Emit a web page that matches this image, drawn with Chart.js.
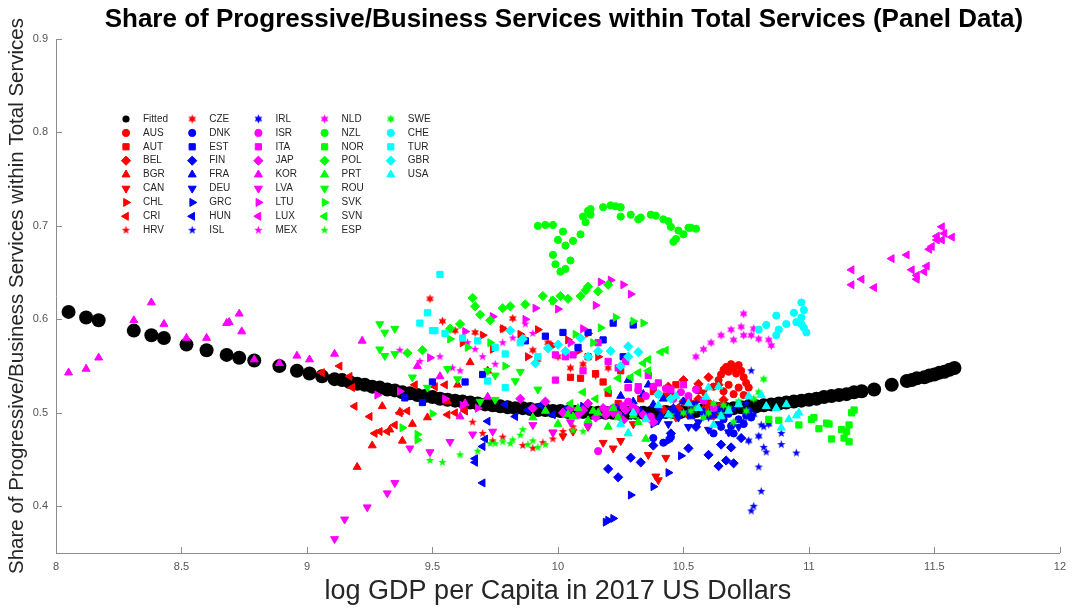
<!DOCTYPE html>
<html>
<head>
<meta charset="utf-8">
<script src="https://cdn.jsdelivr.net/npm/chart.js@4/dist/chart.umd.min.js"></script>
<style>
  html, body { margin: 0; padding: 0; background: #fff; }
  #wrap { width: 1073px; height: 609px; }
</style>
</head>
<body>
<div id="wrap"><canvas id="panelChart" width="1073" height="609"></canvas></div>
<script>
// ---- values ----
const xTicks = [8, 8.5, 9, 9.5, 10, 10.5, 11, 11.5, 12];
const yTicks = [0.4, 0.5, 0.6, 0.7, 0.8, 0.9];

const countries = ['AUS','AUT','BEL','BGR','CAN','CHL','CRI','HRV','CZE',
                   'DNK','EST','FIN','FRA','DEU','GRC','HUN','ISL','IRL',
                   'ISR','ITA','JAP','KOR','LVA','LTU','LUX','MEX','NLD',
                   'NZL','NOR','POL','PRT','ROU','SVK','SVN','ESP','SWE',
                   'CHE','TUR','GBR','USA'];

const fittedX = [8.05,8.12,8.17,8.31,8.38,8.43,8.52,8.60,8.68,8.73,8.79,8.89,8.96,9.01,9.06,9.11,9.14,9.17,
  9.20,9.23,9.26,9.29,9.32,9.35,9.38,9.41,9.44,9.47,9.50,9.53,9.56,9.59,9.62,9.65,9.68,9.71,9.74,9.77,
  9.80,9.83,9.86,9.89,9.92,9.95,9.98,10.01,10.04,10.07,10.10,10.13,10.16,10.19,10.22,10.25,10.28,10.31,
  10.34,10.37,10.40,10.43,10.46,10.49,10.52,10.55,10.58,10.61,10.64,10.67,10.70,10.73,10.76,10.79,10.82,
  10.85,10.88,10.91,10.94,10.97,11.00,11.03,11.06,11.09,11.12,11.15,11.18,11.21,11.26,11.33,11.39,11.41,
  11.43,11.46,11.48,11.50,11.52,11.54,11.56,11.58];
const fittedY = [0.608,0.602,0.599,0.588,0.583,0.580,0.573,0.567,0.562,0.559,0.556,0.550,0.545,0.542,0.539,0.536,0.535,0.533,
  0.531,0.530,0.528,0.527,0.525,0.524,0.522,0.521,0.519,0.518,0.517,0.515,0.514,0.513,0.512,0.511,0.510,0.509,0.508,0.507,
  0.506,0.505,0.505,0.504,0.503,0.503,0.502,0.502,0.501,0.501,0.501,0.500,0.500,0.500,0.500,0.500,0.500,0.500,
  0.500,0.500,0.500,0.501,0.501,0.501,0.502,0.502,0.503,0.503,0.504,0.504,0.505,0.506,0.507,0.507,0.508,
  0.509,0.510,0.511,0.512,0.513,0.514,0.515,0.517,0.518,0.519,0.520,0.522,0.523,0.525,0.530,0.534,0.535,
  0.537,0.538,0.540,0.541,0.543,0.544,0.546,0.548];

const AUS = [[10.62,0.528],[10.64,0.535],[10.65,0.541],[10.66,0.546],[10.67,0.549],[10.68,0.544],[10.69,0.552],[10.70,0.548],
  [10.71,0.542],[10.72,0.551],[10.73,0.545],[10.74,0.538],[10.75,0.532],[10.72,0.527],[10.70,0.520],[10.68,0.530],[10.66,0.523],[10.76,0.527],[10.74,0.519]];
const AUT = [[10.05,0.538],[10.09,0.537],[10.15,0.542],[10.18,0.533],[10.20,0.521],[10.24,0.510],[10.28,0.527],[10.33,0.515],
  [10.38,0.523],[10.43,0.518],[10.47,0.530],[10.52,0.512],[10.56,0.524],[10.60,0.508],[10.12,0.560],[10.25,0.545]];
const BEL = [[10.48,0.505],[10.50,0.512],[10.52,0.498],[10.54,0.509],[10.56,0.515],[10.58,0.503],[10.60,0.511],[10.62,0.497],
  [10.64,0.506],[10.66,0.514],[10.45,0.520],[10.42,0.503],[10.44,0.528],[10.50,0.535],[10.56,0.531],[10.60,0.538],[10.64,0.530]];
const BGR = [[9.20,0.442],[9.26,0.465],[9.30,0.507],[9.37,0.501],[9.33,0.482],[9.42,0.488],[9.48,0.495],[9.56,0.512],
  [9.65,0.554],[9.72,0.545],[9.60,0.530],[9.38,0.470]];
const CAN = [[9.98,0.479],[10.02,0.475],[10.06,0.480],[10.12,0.485],[10.18,0.468],[10.22,0.462],[10.25,0.470],[10.30,0.488],
  [10.36,0.455],[10.39,0.432],[10.40,0.428],[10.43,0.452],[10.47,0.495],[10.52,0.510],[10.58,0.522]];
const CHL = [[9.62,0.575],[9.70,0.583],[9.78,0.590],[9.85,0.584],[9.92,0.589],[9.98,0.572],[10.04,0.578],[10.08,0.566],
  [10.12,0.585],[10.16,0.560],[9.88,0.560],[9.74,0.568]];
const CRI = [[9.06,0.543],[9.13,0.550],[9.17,0.539],[9.18,0.527],[9.19,0.507],[9.25,0.496],[9.27,0.478],[9.29,0.480],
  [9.32,0.480],[9.35,0.487],[9.37,0.500],[9.40,0.502],[9.43,0.530],[9.51,0.528],[9.55,0.530],[9.56,0.498],[9.59,0.500],[9.63,0.502]];
const HRV = [[9.70,0.478],[9.74,0.470],[9.78,0.474],[9.86,0.465],[9.90,0.462],[9.94,0.468],[9.98,0.472],[10.02,0.480],
  [10.06,0.485],[9.66,0.490],[9.62,0.505]];
const CZE = [[9.49,0.622],[9.54,0.598],[9.59,0.588],[9.67,0.586],[9.78,0.590],[9.82,0.601],[9.86,0.580],[9.90,0.567],
  [9.92,0.557],[9.96,0.575],[10.00,0.560],[10.05,0.548],[10.10,0.552],[10.15,0.540],[10.20,0.548]];
const DNK = [[10.62,0.478],[10.65,0.485],[10.66,0.493],[10.69,0.486],[10.70,0.478],[10.72,0.493],[10.74,0.488],[10.75,0.497],
  [10.76,0.502],[10.77,0.495],[10.68,0.499],[10.64,0.503],[10.42,0.468],[10.45,0.474],[10.38,0.473]];
const EST = [[9.39,0.516],[9.46,0.511],[9.50,0.533],[9.63,0.533],[9.70,0.541],[9.87,0.577],[9.95,0.582],[10.02,0.586],
  [10.08,0.570],[10.12,0.586],[10.18,0.578],[10.22,0.596],[10.30,0.594],[10.26,0.560]];
const FIN = [[10.20,0.440],[10.24,0.431],[10.29,0.452],[10.33,0.447],[10.38,0.465],[10.45,0.478],[10.52,0.462],[10.60,0.455],
  [10.64,0.443],[10.65,0.466],[10.67,0.449],[10.69,0.463],[10.70,0.446],[10.73,0.473],[10.55,0.485]];
const FRA = [[10.25,0.518],[10.30,0.512],[10.34,0.520],[10.38,0.509],[10.42,0.515],[10.46,0.505],[10.50,0.512],[10.54,0.508],
  [10.58,0.501],[10.62,0.497],[10.28,0.535],[10.36,0.530],[10.33,0.502],[10.41,0.497],[10.47,0.500],[10.53,0.496]];
const DEU = [[10.35,0.498],[10.40,0.492],[10.44,0.488],[10.48,0.495],[10.52,0.485],[10.56,0.490],[10.60,0.482],[10.64,0.488],
  [10.68,0.479],[10.72,0.485],[10.30,0.505],[10.25,0.496],[10.45,0.503],[10.52,0.500],[10.58,0.497],[10.62,0.503]];
const GRC = [[10.19,0.383],[10.20,0.385],[10.22,0.387],[10.29,0.412],[10.38,0.421],[10.44,0.436],[10.49,0.454],[10.44,0.470],
  [10.38,0.488],[10.30,0.497],[10.24,0.505],[10.16,0.498],[10.10,0.507]];
const HUN = [[9.67,0.451],[9.67,0.447],[9.70,0.425],[9.70,0.464],[9.71,0.472],[9.72,0.491],[9.79,0.509],[9.83,0.496],
  [9.88,0.503],[9.93,0.508],[9.98,0.498],[10.03,0.504],[10.08,0.499]];
const ISL = [[10.77,0.545],[10.81,0.487],[10.82,0.485],[10.89,0.478],[10.89,0.466],[10.82,0.463],[10.83,0.458],[10.95,0.457],
  [10.80,0.442],[10.81,0.416],[10.78,0.400],[10.77,0.395],[10.75,0.510],[10.70,0.505]];
const IRL = [[10.40,0.505],[10.48,0.498],[10.55,0.510],[10.60,0.495],[10.65,0.502],[10.72,0.508],[10.78,0.498],[10.84,0.488],
  [10.80,0.475],[10.74,0.490],[10.68,0.480],[10.76,0.470]];
const ISR = [[10.16,0.459],[10.22,0.505],[10.28,0.512],[10.32,0.524],[10.35,0.518],[10.38,0.528],[10.40,0.520],[10.43,0.526],
  [10.46,0.515],[10.49,0.522],[10.52,0.518],[10.55,0.525],[10.58,0.513],[10.62,0.505],[10.24,0.498],[10.31,0.503],[10.37,0.496]];
const ITA = [[9.99,0.562],[10.03,0.560],[10.06,0.562],[10.16,0.575],[10.20,0.555],[10.24,0.548],[10.27,0.555],[10.28,0.527],
  [10.32,0.528],[10.36,0.540],[10.40,0.532],[10.45,0.525],[10.50,0.530],[9.99,0.535],[10.10,0.545],[10.20,0.503],[10.26,0.508]];
const JAP = [[10.05,0.505],[10.08,0.498],[10.12,0.510],[10.15,0.495],[10.18,0.505],[10.22,0.500],[10.26,0.492],[10.30,0.506],
  [10.34,0.498],[10.38,0.490],[9.95,0.512],[9.90,0.505],[9.85,0.515],[10.02,0.500],[10.10,0.503],[10.19,0.498],[10.27,0.503]];
const KOR = [[8.05,0.543],[8.12,0.547],[8.17,0.559],[8.31,0.599],[8.38,0.618],[8.43,0.595],[8.52,0.580],[8.60,0.580],
  [8.68,0.596],[8.69,0.597],[8.73,0.606],[8.74,0.587],[8.79,0.557],[8.89,0.553],[8.96,0.561],[9.01,0.557],[9.11,0.563],
  [9.22,0.577],[9.44,0.550],[9.53,0.539],[9.61,0.496],[9.63,0.510],[9.72,0.517]];
const LVA = [[9.11,0.365],[9.15,0.386],[9.24,0.399],[9.32,0.414],[9.35,0.425],[9.41,0.462],[9.49,0.458],[9.57,0.469],
  [9.66,0.477],[9.74,0.480],[9.90,0.487],[9.98,0.479],[10.05,0.490],[10.12,0.486]];
const LTU = [[9.28,0.519],[9.37,0.523],[9.49,0.559],[9.63,0.587],[9.74,0.603],[9.87,0.600],[9.91,0.612],[10.00,0.611],
  [10.15,0.615],[10.17,0.640],[10.21,0.642],[10.26,0.637],[10.29,0.627],[10.10,0.590],[10.05,0.575],[9.55,0.515],[9.62,0.508],[9.68,0.505]];
const LUX = [[11.17,0.653],[11.21,0.643],[11.17,0.637],[11.26,0.634],[11.33,0.665],[11.39,0.669],[11.41,0.653],[11.43,0.647],
  [11.46,0.651],[11.47,0.657],[11.43,0.643],[11.48,0.675],[11.49,0.678],[11.51,0.689],[11.51,0.685],[11.53,0.699],[11.53,0.685],
  [11.57,0.688],[11.54,0.692]];
const MEX = [[9.37,0.567],[9.45,0.555],[9.53,0.560],[9.58,0.548],[9.61,0.545],[9.64,0.575],[9.67,0.568],[9.70,0.560],
  [9.78,0.575],[9.82,0.580],[9.87,0.595],[9.90,0.585],[9.75,0.552]];
const NLD = [[10.55,0.560],[10.58,0.568],[10.61,0.575],[10.65,0.583],[10.69,0.589],[10.73,0.592],[10.74,0.606],[10.74,0.583],
  [10.77,0.583],[10.80,0.579],[10.84,0.578],[10.85,0.572],[10.78,0.590],[10.70,0.578]];
const NZL = [[9.92,0.700],[9.95,0.701],[9.98,0.701],[10.02,0.694],[10.00,0.685],[10.03,0.679],[10.06,0.684],[10.09,0.691],
  [9.98,0.669],[9.99,0.659],[10.05,0.663],[10.01,0.651],[10.03,0.654],[10.10,0.710],[10.11,0.704],[10.12,0.716],[10.13,0.718],
  [10.13,0.712],[10.18,0.720],[10.21,0.722],[10.23,0.721],[10.25,0.720],[10.25,0.710],[10.29,0.712],[10.32,0.707],[10.33,0.709],
  [10.37,0.712],[10.39,0.711],[10.42,0.707],[10.44,0.705],[10.45,0.699],[10.48,0.695],[10.50,0.691],[10.46,0.683],[10.47,0.686],
  [10.52,0.698],[10.53,0.698],[10.55,0.697]];
const NOR = [[10.84,0.493],[10.88,0.492],[10.96,0.487],[11.01,0.493],[11.02,0.495],[11.04,0.483],[11.07,0.489],[11.08,0.488],
  [11.09,0.472],[11.13,0.482],[11.14,0.473],[11.16,0.487],[11.16,0.469],[11.17,0.500],[11.18,0.503],[11.15,0.480]];
const POL = [[9.40,0.564],[9.46,0.567],[9.57,0.590],[9.61,0.595],[9.66,0.623],[9.67,0.614],[9.69,0.605],[9.73,0.599],
  [9.78,0.612],[9.81,0.614],[9.87,0.616],[9.94,0.625],[9.98,0.620],[10.01,0.625],[10.04,0.622],[10.09,0.625],[10.11,0.631],
  [10.12,0.635],[10.16,0.630],[10.20,0.637]];
const PRT = [[9.90,0.495],[9.95,0.502],[10.00,0.488],[10.04,0.498],[10.08,0.505],[10.12,0.492],[10.16,0.500],[10.20,0.485],
  [10.24,0.495],[10.28,0.478],[10.32,0.490],[10.35,0.472],[10.06,0.496],[10.14,0.502],[10.22,0.505],[10.30,0.497]];
const ROU = [[9.29,0.595],[9.31,0.586],[9.35,0.590],[9.29,0.568],[9.31,0.561],[9.35,0.563],[9.42,0.538],[9.48,0.527],
  [9.56,0.547],[9.60,0.536],[9.72,0.545],[9.75,0.540],[9.83,0.534],[9.85,0.544],[9.92,0.525],[9.69,0.512],[9.75,0.514]];
const SVK = [[9.38,0.484],[9.44,0.471],[9.44,0.477],[9.50,0.499],[9.57,0.579],[9.64,0.570],[9.73,0.575],[9.79,0.550],
  [9.98,0.620],[10.07,0.584],[10.14,0.575],[10.17,0.591],[10.23,0.602],[10.30,0.598],[10.34,0.596]];
const SVN = [[10.24,0.537],[10.29,0.538],[10.32,0.543],[10.34,0.553],[10.36,0.545],[10.36,0.557],[10.41,0.565],[10.43,0.567],
  [10.20,0.525],[10.15,0.515],[10.10,0.522],[10.05,0.510]];
const ESP = [[9.49,0.449],[9.54,0.447],[9.61,0.455],[9.68,0.459],[9.73,0.467],[9.75,0.467],[9.78,0.469],[9.81,0.467],
  [9.82,0.471],[9.85,0.476],[9.86,0.482],[9.88,0.466],[9.90,0.470],[9.92,0.463],[9.95,0.466],[10.06,0.481],[10.10,0.480]];
const SWE = [[10.50,0.500],[10.55,0.505],[10.58,0.495],[10.62,0.510],[10.65,0.498],[10.68,0.505],[10.72,0.512],[10.75,0.502],
  [10.78,0.515],[10.82,0.536],[10.80,0.522],[10.70,0.490],[10.45,0.497],[10.53,0.502],[10.60,0.500],[10.66,0.508]];
const CHE = [[10.80,0.589],[10.83,0.594],[10.87,0.604],[10.88,0.589],[10.87,0.583],[10.91,0.595],[10.94,0.607],[10.95,0.597],
  [10.97,0.602],[10.97,0.618],[10.98,0.610],[10.97,0.595],[10.98,0.591],[10.99,0.586]];
const TUR = [[9.53,0.648],[9.48,0.607],[9.45,0.596],[9.50,0.588],[9.51,0.588],[9.55,0.585],[9.62,0.580],[9.68,0.577],
  [9.75,0.570],[9.79,0.563],[9.72,0.534],[9.79,0.527],[9.85,0.575],[9.92,0.560]];
const GBR = [[9.81,0.588],[9.86,0.579],[9.91,0.553],[9.96,0.569],[10.00,0.573],[10.03,0.566],[10.09,0.580],[10.12,0.560],
  [10.16,0.566],[10.21,0.566],[10.25,0.550],[10.28,0.571],[10.28,0.560],[10.32,0.565],[10.40,0.520],[10.45,0.515]];
const USA = [[10.47,0.518],[10.52,0.510],[10.56,0.505],[10.59,0.517],[10.60,0.527],[10.62,0.487],[10.64,0.528],[10.65,0.496],
  [10.68,0.502],[10.72,0.509],[10.76,0.518],[10.81,0.519],[10.83,0.507],[10.87,0.505],[10.89,0.484],[10.91,0.509],[10.92,0.493],
  [10.95,0.497],[10.96,0.500],[10.30,0.500],[10.35,0.493],[10.40,0.508],[10.44,0.498],[10.28,0.478],[10.25,0.488]];

const countryPoints = {AUS, AUT, BEL, BGR, CAN, CHL, CRI, HRV, CZE, DNK, EST, FIN, FRA, DEU, GRC, HUN, ISL, IRL,
  ISR, ITA, JAP, KOR, LVA, LTU, LUX, MEX, NLD, NZL, NOR, POL, PRT, ROU, SVK, SVN, ESP, SWE, CHE, TUR, GBR, USA};

// ---- styling ----
const palette = ['#ff0000', '#0000ff', '#ff00ff', '#00ff00', '#00ffff'];
const FONT = '"Liberation Sans", Arial, Helvetica, sans-serif';

function starCanvas(color, points, outer, inner) {
  const c = document.createElement('canvas');
  c.width = 11; c.height = 11;
  const g = c.getContext('2d');
  g.fillStyle = color;
  g.beginPath();
  for (let k = 0; k < points * 2; k++) {
    const r = k % 2 === 0 ? outer : inner;
    const a = -Math.PI / 2 + k * Math.PI / points;
    const px = 5.5 + r * Math.cos(a), py = 5.5 + r * Math.sin(a);
    if (k === 0) g.moveTo(px, py); else g.lineTo(px, py);
  }
  g.closePath();
  g.fill();
  return c;
}

// marker cycle o s d ^ v > < p h
function markerFor(k, color) {
  switch (k) {
    case 0: return {style: 'circle', rot: 0, r: 3.6};
    case 1: return {style: 'rect', rot: 0, r: 4.4};
    case 2: return {style: 'rectRot', rot: 0, r: 4.6};
    case 3: return {style: 'triangle', rot: 0, r: 4.6};
    case 4: return {style: 'triangle', rot: 180, r: 4.6};
    case 5: return {style: 'triangle', rot: 90, r: 4.6};
    case 6: return {style: 'triangle', rot: -90, r: 4.6};
    case 7: return {style: starCanvas(color, 5, 4.4, 1.8), rot: 0, r: 4};
    default: return {style: starCanvas(color, 6, 4.4, 2.4), rot: 0, r: 4};
  }
}

const datasets = [{
  label: 'Fitted',
  data: fittedX.map((x, i) => ({x: x, y: fittedY[i]})),
  pointStyle: 'circle', pointRadius: 7, pointHoverRadius: 7,
  backgroundColor: '#000', borderColor: '#000', pointBorderWidth: 0,
  showLine: false, order: 100
}];
countries.forEach((name, i) => {
  const color = palette[Math.floor(i / 9)];
  const m = markerFor(i % 9, color);
  datasets.push({
    label: name,
    data: countryPoints[name].map(p => ({x: p[0], y: p[1]})),
    pointStyle: m.style, pointRotation: m.rot,
    pointRadius: m.r, pointHoverRadius: m.r,
    backgroundColor: color, borderColor: color,
    pointBorderWidth: typeof m.style === 'string' ? 1 : 0,
    showLine: false, order: 60 - i
  });
});

// title drawn over the centre of the plot area
const titlePlugin = {
  id: 'topTitle',
  afterDraw(chart) {
    const {ctx, chartArea: a} = chart;
    ctx.save();
    ctx.font = 'bold 26px ' + FONT;
    ctx.fillStyle = '#000';
    ctx.textAlign = 'center';
    ctx.textBaseline = 'middle';
    ctx.fillText('Share of Progressive/Business Services within Total Services (Panel Data)', (a.left + a.right) / 2 + 6, 20);
    ctx.restore();
  }
};

// ticks pointing into the plot
const inwardTicks = {
  id: 'inwardTicks',
  afterDraw(chart) {
    const {ctx, chartArea: a, scales: {x, y}} = chart;
    ctx.save();
    ctx.strokeStyle = '#8c8c8c';
    ctx.lineWidth = 1;
    ctx.beginPath();
    x.ticks.forEach(t => {
      const px = Math.round(x.getPixelForValue(t.value)) + 0.5;
      ctx.moveTo(px, a.bottom); ctx.lineTo(px, a.bottom - 6);
    });
    y.ticks.forEach(t => {
      const py = Math.round(y.getPixelForValue(t.value)) + 0.5;
      ctx.moveTo(a.left, py); ctx.lineTo(a.left + 6, py);
    });
    ctx.stroke();
    ctx.restore();
  }
};

// legend laid out column-wise, 9 rows, inside the axes
const gridLegend = {
  id: 'gridLegend',
  afterDraw(chart) {
    const {ctx, chartArea: a} = chart;
    const helpers = Chart.helpers || {};
    ctx.save();
    ctx.font = '10px ' + FONT;
    ctx.textBaseline = 'middle';
    ctx.textAlign = 'left';
    chart.data.datasets.forEach((ds, j) => {
      const col = Math.floor(j / 9), row = j % 9;
      const mx = a.left + 70 + col * 66.2;
      const my = a.top + 80 + row * 13.9;
      ctx.fillStyle = ds.backgroundColor;
      ctx.strokeStyle = ds.borderColor;
      ctx.lineWidth = 1;
      const r = j === 0 ? 3.6 : ds.pointRadius;
      if (helpers.drawPoint) {
        helpers.drawPoint(ctx, {pointStyle: ds.pointStyle, rotation: ds.pointRotation || 0, radius: r,
          borderWidth: j === 0 ? 0 : ds.pointBorderWidth}, mx, my);
      } else {
        ctx.beginPath(); ctx.arc(mx, my, r, 0, Math.PI * 2); ctx.fill();
      }
      ctx.fillStyle = '#262626';
      ctx.fillText(ds.label, mx + 17, my);
    });
    ctx.restore();
  }
};

new Chart(document.getElementById('panelChart'), {
  type: 'scatter',
  data: {datasets: datasets},
  options: {
    responsive: false,
    animation: false,
    events: [],
    layout: {padding: {top: 39, right: 12, left: 0, bottom: 0}},
    plugins: {legend: {display: false}, title: {display: false}, tooltip: {enabled: false}},
    scales: {
      x: {
        type: 'linear', min: 8, max: 12,
        afterBuildTicks: s => { s.ticks = xTicks.map(v => ({value: v})); },
        afterFit: s => { s.height = 56; },
        grid: {display: false, drawTicks: false},
        border: {display: true, color: '#8c8c8c', width: 1},
        ticks: {color: '#555', font: {size: 11, family: FONT}, padding: 7, maxRotation: 0, autoSkip: false,
          callback: v => String(v)},
        title: {display: true, text: 'log GDP per Capita in 2017 US Dollars', color: '#262626',
          font: {size: 27, family: FONT}, padding: {top: 0, bottom: 1}}
      },
      y: {
        type: 'linear', min: 0.35, max: 0.9,
        afterBuildTicks: s => { s.ticks = yTicks.map(v => ({value: v})); },
        afterFit: s => { s.width = 56; },
        grid: {display: false, drawTicks: false},
        border: {display: true, color: '#8c8c8c', width: 1},
        ticks: {color: '#555', font: {size: 11, family: FONT}, padding: 8, autoSkip: false,
          callback: v => String(v)},
        title: {display: true, text: 'Share of Progressive/Business Services within Total Services', color: '#262626',
          font: {size: 20.5, family: FONT}, padding: {top: 5, bottom: 0}}
      }
    }
  },
  plugins: [titlePlugin, inwardTicks, gridLegend]
});
</script>
</body>
</html>
